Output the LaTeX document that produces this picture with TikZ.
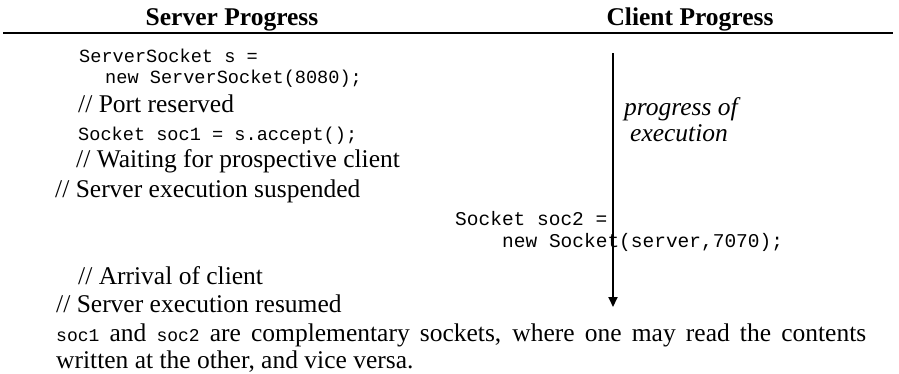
\documentclass[tikz,border=0pt]{standalone}
\usepackage{fontspec}
\setmainfont{Liberation Serif}
\setmonofont{Liberation Mono}
\usetikzlibrary{arrows.meta,positioning}
\newcommand{\codeword}[1]{{\fontsize{18}{20}\selectfont\ttfamily #1}}

\begin{document}
\begin{tikzpicture}[
  x=1pt,
  y=-1pt,
  head/.style={anchor=base,inner sep=0,font=\fontsize{25.5}{28}\selectfont\bfseries},
  remark/.style={anchor=base west,inner sep=0,font=\fontsize{25.5}{28}\selectfont},
  code/.style={anchor=base west,inner sep=0,font=\fontsize{18.6}{20}\selectfont\ttfamily},
  clicode/.style={code,font=\fontsize{19.5}{21}\selectfont\ttfamily},
  hint/.style={anchor=base west,inner sep=0,font=\fontsize{25.5}{28}\selectfont\itshape},
  rule/.style={line width=1.8pt},
  flow/.style={-{Triangle[length=10pt,width=9pt]},line width=1.8pt}
]
  \useasboundingbox (0,0) rectangle (899,373);

  % column heads
  \node[head] (srvhead) at (232,25) {Server Progress};
  \node[head] (clihead) at (690,25) {Client Progress};
  \coordinate (ruleL) at (3,33);
  \coordinate (ruleR) at (893,33);
  \draw[rule] (ruleL) -- (ruleR);

  % server side
  \node[code] (srv1) at (79,62) {ServerSocket s =};
  \node[code] (srv2) at (105,83) {new ServerSocket(8080);};
  \node[remark] (srv3) at (78,112) {// Port reserved};
  \node[code] (srv4) at (78,140) {Socket soc1 = s.accept();};
  \node[remark] (srv5) at (76,167) {// Waiting for prospective client};
  \node[remark] (srv6) at (55,197) {// Server execution suspended};
  \node[remark] (srv7) at (78,284) {// Arrival of client};
  \node[remark] (srv8) at (56,312) {// Server execution resumed};

  % client side
  \node[clicode] (cli1) at (455,225) {Socket soc2 =};
  \node[clicode] (cli2) at (502,247) {new Socket(server,7070);};

  % time axis
  \coordinate (flowtop) at (613,53);
  \coordinate (flowbot) at (613,307);
  \draw[flow] (flowtop) -- (flowbot);
  \node[hint] (hint1) at (624,115) {progress of};
  \node[hint] (hint2) at (630,141) {execution};

  % closing remark
  \node[remark] (end1) at (56,341) {\makebox[810pt][s]{\codeword{soc1} and \codeword{soc2} are complementary sockets, where one may read the contents}};
  \node[remark] (end2) at (56,368) {written at the other, and vice versa.};
\end{tikzpicture}
\end{document}
